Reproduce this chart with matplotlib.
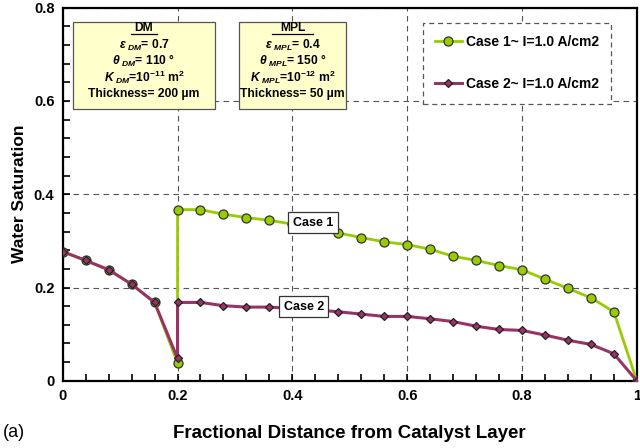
import matplotlib
matplotlib.use("Agg")
import matplotlib.pyplot as plt
from matplotlib.patches import Rectangle
from matplotlib.lines import Line2D
from matplotlib.ticker import MultipleLocator, FuncFormatter

plt.rcParams['font.family'] = ['Liberation Sans', 'DejaVu Sans']
plt.rcParams['mathtext.fontset'] = 'custom'
plt.rcParams['mathtext.rm'] = 'Liberation Sans:bold'
plt.rcParams['mathtext.it'] = 'Liberation Sans:italic:bold'
plt.rcParams['mathtext.bf'] = 'Liberation Sans:bold'

# data
x_case = [0, 0.04, 0.08, 0.12, 0.16, 0.2, 0.2, 0.24, 0.28, 0.32, 0.36, 0.4, 0.44,
          0.48, 0.52, 0.56, 0.6, 0.64, 0.68, 0.72, 0.76, 0.8, 0.84, 0.88, 0.92, 0.96, 1.0]
case1 = [0.277, 0.258, 0.238, 0.207, 0.168, 0.038, 0.367, 0.367, 0.357, 0.35, 0.344, 0.336, 0.327,
         0.317, 0.307, 0.298, 0.292, 0.282, 0.267, 0.258, 0.247, 0.238, 0.218, 0.198, 0.178, 0.148, 0.0]
case2 = [0.277, 0.258, 0.238, 0.207, 0.168, 0.048, 0.168, 0.168, 0.161, 0.158, 0.158, 0.155, 0.152,
         0.148, 0.143, 0.138, 0.138, 0.133, 0.127, 0.117, 0.110, 0.108, 0.098, 0.087, 0.078, 0.058, 0.0]
label1 = 'Case 1~ I=1.0 A/cm2'
label2 = 'Case 2~ I=1.0 A/cm2'

dm_lines = ['DM', r'$\varepsilon_{\ DM}$= 0.7', r'$\theta_{\ DM}$= 110 °',
            r'$K_{\ DM}$=10$^{-11}$ m$^2$', 'Thickness= 200 µm']
mpl_lines = ['MPL', r'$\varepsilon_{\ MPL}$= 0.4', r'$\theta_{\ MPL}$= 150 °',
             r'$K_{\ MPL}$=10$^{-12}$ m$^2$', 'Thickness= 50 µm']

green = '#99CC00'
purple = '#993366'

fig = plt.figure(figsize=(6.4, 4.48), dpi=100)
ax = fig.add_axes([0.098, 0.150, 0.897, 0.833])

ax.plot(x_case, case1, color=green, lw=2.0, marker='o', ms=6.5, mfc=green,
        mec='#333333', mew=0.9, label=label1, zorder=3)
ax.plot(x_case, case2, color=purple, lw=2.2, marker='D', ms=4.5, mfc=purple,
        mec='#222222', mew=0.9, label=label2, zorder=4)

ax.set_xlim(0, 1)
ax.set_ylim(0, 0.8)
ax.xaxis.set_major_locator(MultipleLocator(0.2))
ax.xaxis.set_minor_locator(MultipleLocator(0.04))
ax.yaxis.set_major_locator(MultipleLocator(0.2))
ax.yaxis.set_minor_locator(MultipleLocator(0.04))
fmt = FuncFormatter(lambda v, p: '%g' % round(v, 2))
ax.xaxis.set_major_formatter(fmt)
ax.yaxis.set_major_formatter(fmt)
ax.tick_params(which='both', direction='in', width=1.2)
ax.tick_params(which='major', length=5, labelsize=10.5, pad=6)
ax.tick_params(which='minor', length=5)
for lab in ax.get_xticklabels() + ax.get_yticklabels():
    lab.set_fontweight('bold')
for s in ax.spines.values():
    s.set_linewidth(1.6)
ax.grid(True, which='major', ls=(0, (5, 4)), color='#555555', lw=0.8)

ax.set_ylabel('Water Saturation', fontsize=12.5, fontweight='bold', labelpad=5)
ax.set_xlabel('Fractional Distance from Catalyst Layer', fontsize=13.5,
              fontweight='bold', labelpad=16)
fig.text(0.005, 0.034, '(a)', fontsize=13, va='center')

leg = ax.legend(loc='upper right', bbox_to_anchor=(0.955, 0.949),
                bbox_transform=fig.transFigure,
                prop={'weight': 'bold', 'size': 10}, labelspacing=2.0,
                handlelength=1.9, handletextpad=0.3, borderpad=0.9,
                fancybox=False, framealpha=1, borderaxespad=0)
leg.get_frame().set_linestyle((0, (4, 3)))
leg.get_frame().set_edgecolor('#555555')
leg.get_frame().set_linewidth(0.9)

ax.text(0.436, 0.339, 'Case 1', fontsize=9, fontweight='bold', ha='center',
        va='center', zorder=6,
        bbox=dict(boxstyle='square,pad=0.35', fc='white', ec='#333333', lw=0.9))
ax.text(0.42, 0.159, 'Case 2', fontsize=9, fontweight='bold', ha='center',
        va='center', zorder=6,
        bbox=dict(boxstyle='square,pad=0.35', fc='white', ec='#333333', lw=0.9))

# parameter boxes (figure coords)
for (x0, x1, lines) in [(0.114, 0.336, dm_lines), (0.373, 0.541, mpl_lines)]:
    y0, y1 = 0.757, 0.951
    fig.patches.append(Rectangle((x0, y0), x1 - x0, y1 - y0, transform=fig.transFigure,
                                 fc='#FFFFCC', ec='#555555', lw=0.9, zorder=5))
    xc = (x0 + x1) / 2
    ys = [0.938, 0.898, 0.863, 0.827, 0.790]
    for t, yy in zip(lines, ys):
        fig.text(xc, yy, t, fontsize=8.7, fontweight='bold', ha='center', va='center', zorder=6)
    w = 0.0105 * len(lines[0])
    fig.lines.append(Line2D([xc - w, xc + w], [0.924, 0.924], transform=fig.transFigure,
                            color='black', lw=0.9, zorder=6))

fig.savefig('out.png', dpi=100)
